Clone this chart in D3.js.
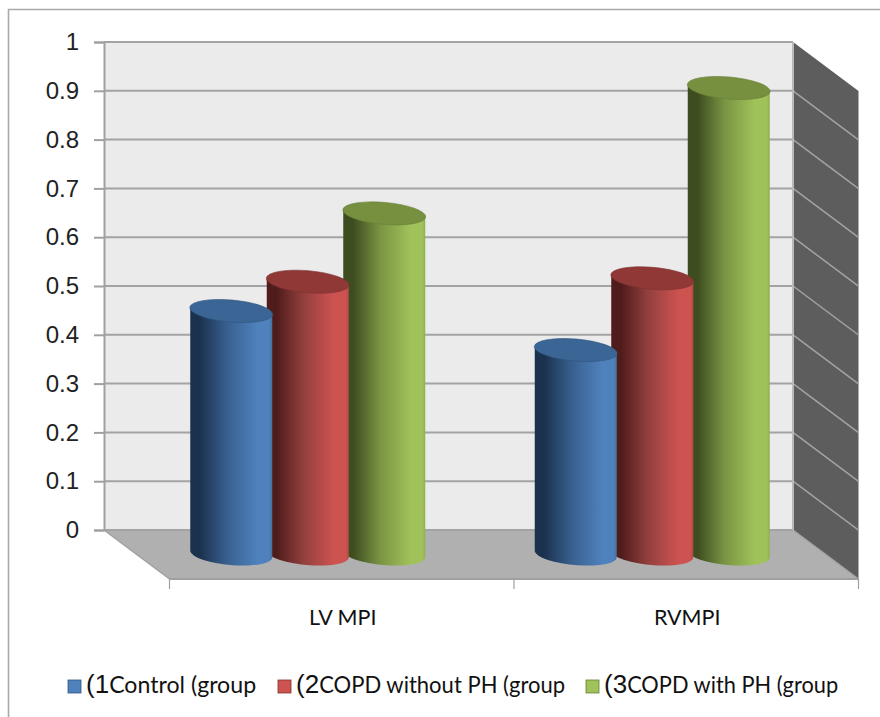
<!DOCTYPE html>
<html>
<head>
<meta charset="utf-8">
<script src="https://cdn.jsdelivr.net/npm/d3@7/dist/d3.min.js"></script>
<style>
html,body{margin:0;padding:0;background:#fff;}
svg{display:block;}
.num{font-family:"Liberation Sans",Arial,sans-serif;font-size:24px;fill:#222;}
.cat{font-family:Lato,"Open Sans",sans-serif;font-size:21.5px;fill:#111;}
.leg{font-family:Lato,"Open Sans",sans-serif;font-size:22.4px;fill:#111;}
.legnum{font-family:"Liberation Sans",Arial,sans-serif;font-size:26px;}
</style>
</head>
<body>
<svg id="chart" width="880" height="717"></svg>
<script>
const categories = ["LV MPI", "RVMPI"];
const seriesNames = ["Control (group", "COPD without PH (group", "COPD with PH (group"];
const seriesPrefix = ["(1", "(2", "(3"];
const control = [0.50, 0.42];
const copdWithoutPH = [0.56, 0.567];
const copdWithPH = [0.70, 0.957];
const yTicks = [0, 0.1, 0.2, 0.3, 0.4, 0.5, 0.6, 0.7, 0.8, 0.9, 1];
const bodyColors = [
  {dark: "#1b324f", mid: "#38608f", light: "#4f81bd", edge: "#45719f", cap: "#3b6595", rim:"#2f5580"},
  {dark: "#4f1c1b", mid: "#93403e", light: "#cd5351", edge: "#b54a47", cap: "#8f3836", rim:"#7d3230"},
  {dark: "#3e4d20", mid: "#7a9443", light: "#a0c25a", edge: "#8fb04e", cap: "#769040", rim:"#677f37"}
];

const svg = d3.select("#chart");
const defs = svg.append("defs");

// Box geometry of the 3D plot: back wall, and how far the floor projects forward.
const wall = {left: 104, right: 793, top: 42, bottom: 530};
const depth = {x: 65.5, y: 49};
const barDepth = {x: 34, y: 25};

const y = d3.scaleLinear().domain([0, 1]).range([wall.bottom, wall.top]);
const xFront = d3.scaleBand().domain(categories)
  .range([wall.left + depth.x, wall.right + depth.x]);
const xSeries = d3.scalePoint().domain(seriesNames).range([-76.5, 76.5]);
const barWidth = 82, capRy = 11, capTilt = 5;

// Outer frame
svg.append("path").attr("d", "M8.5,717V9.5H880").attr("fill", "none")
  .attr("stroke", "#a9a9a9").attr("stroke-width", 1.6);

// Back wall
svg.append("rect").attr("x", wall.left).attr("y", wall.top)
  .attr("width", wall.right - wall.left).attr("height", wall.bottom - wall.top)
  .attr("fill", "#ebebeb");

// Right side wall
svg.append("path")
  .attr("d", `M${wall.right},${wall.top}L${wall.right + depth.x},${wall.top + depth.y}V${wall.bottom + depth.y}L${wall.right},${wall.bottom}Z`)
  .attr("fill", "#5d5d5d");

// Floor
svg.append("path")
  .attr("d", `M${wall.left},${wall.bottom}H${wall.right}L${wall.right + depth.x},${wall.bottom + depth.y}H${wall.left + depth.x}Z`)
  .attr("fill", "#b0b0b0");

// Gridlines across the back wall and down the side wall
const grid = svg.append("g").attr("fill", "none").attr("stroke", "#a3a3a3");
grid.selectAll("line.back").data(yTicks).join("line").attr("class", "back")
  .attr("x1", wall.left).attr("x2", wall.right)
  .attr("y1", d => y(d)).attr("y2", d => y(d)).attr("stroke-width", 2);
grid.selectAll("line.side").data(yTicks.slice(0, -1)).join("line").attr("class", "side")
  .attr("x1", wall.right).attr("x2", wall.right + depth.x)
  .attr("y1", d => y(d)).attr("y2", d => y(d) + depth.y).attr("stroke-width", 1.5);
grid.append("path").attr("stroke-width", 2)
  .attr("d", `M${wall.right},${wall.top}V${wall.bottom}`).attr("stroke", "#b9b9b9");

// Value axis
const yAxis = svg.append("g").attr("transform", `translate(${wall.left},0)`)
  .call(d3.axisLeft(y).tickValues(yTicks).tickSize(10).tickPadding(15).tickFormat(d3.format("~g")));
yAxis.selectAll("path,line").attr("stroke", "#a0a0a0").attr("stroke-width", 2);
yAxis.selectAll("text").attr("class", "num").attr("dy", "0.32em").attr("fill", null);

// Category axis along the front edge of the floor
const edge = svg.append("g").attr("fill", "none").attr("stroke", "#a0a0a0");
edge.append("line").attr("x1", wall.left).attr("y1", wall.bottom)
  .attr("x2", wall.left + depth.x).attr("y2", wall.bottom + depth.y).attr("stroke-width", 1.5);
const frontY = wall.bottom + depth.y;
edge.append("line").attr("x1", xFront.range()[0]).attr("x2", xFront.range()[1])
  .attr("y1", frontY).attr("y2", frontY).attr("stroke-width", 2);
const tickXs = [...categories.map(c => xFront(c)), xFront.range()[1]];
edge.selectAll("line.tick").data(tickXs).join("line").attr("class", "tick")
  .attr("x1", d => d).attr("x2", d => d)
  .attr("y1", frontY).attr("y2", frontY + 10).attr("stroke-width", 1.2);
svg.selectAll("text.cat").data(categories).join("text").attr("class", "cat")
  .attr("x", d => xFront(d) + xFront.bandwidth() / 2 + 1)
  .attr("y", 625).attr("text-anchor", "middle").text(d => d);

// Horizontal shading of each cylinder
bodyColors.forEach((c, i) => {
  const g = defs.append("linearGradient").attr("id", "body" + i);
  [[0, c.dark], [0.12, c.dark], [0.45, c.mid], [0.82, c.light], [0.96, c.light], [1, c.edge]]
    .forEach(([o, col]) => g.append("stop").attr("offset", o).attr("stop-color", col));
});

// Cylinders, back series first so nearer ones overlap them
const seriesValues = [control, copdWithoutPH, copdWithPH];
const rad = capTilt * Math.PI / 180;
const tiltRise = (barWidth / 2) * Math.tan(rad) * 0.8;
const barsLayer = svg.append("g");

categories.forEach((cat, ci) => {
  const cx0 = xFront(cat) + xFront.bandwidth() / 2 - barDepth.x;
  [2, 1, 0].forEach(si => {
    const v = seriesValues[si][ci];
    const cx = cx0 + xSeries(seriesNames[si]);
    const yTop = y(v) + barDepth.y;
    const yBase = y(0) + barDepth.y - 1;
    const rx = barWidth / 2;
    const g = barsLayer.append("g");
    g.append("path")
      .attr("d", `M${cx - rx},${yTop - tiltRise}L${cx + rx},${yTop + tiltRise}` +
                 `L${cx + rx},${yBase + tiltRise}` +
                 `A${rx},${capRy} ${capTilt} 0 1 ${cx - rx},${yBase - tiltRise}Z`)
      .attr("fill", `url(#body${si})`);
    g.append("ellipse")
      .attr("cx", cx).attr("cy", yTop).attr("rx", rx + 0.6).attr("ry", capRy)
      .attr("transform", `rotate(${capTilt} ${cx} ${yTop})`)
      .attr("fill", bodyColors[si].cap).attr("stroke", bodyColors[si].rim).attr("stroke-width", 0.6);
  });
});

// Legend
const legendX = [68, 278, 586];
const legendNameWidth = [147, 246, 211];
const legend = svg.selectAll("g.legend").data(seriesNames).join("g").attr("class", "legend")
  .attr("transform", (d, i) => `translate(${legendX[i]},680)`);
legend.append("rect").attr("width", 13).attr("height", 13)
  .attr("fill", (d, i) => bodyColors[i].light).attr("stroke", (d, i) => bodyColors[i].rim).attr("stroke-width", 0.8);
const legendText = legend.append("text").attr("class", "leg").attr("x", 18).attr("y", 13);
legendText.append("tspan").attr("class", "legnum").text((d, i) => seriesPrefix[i]);
legendText.append("tspan").attr("textLength", (d, i) => legendNameWidth[i])
  .attr("lengthAdjust", "spacingAndGlyphs").text(d => d);
</script>
</body>
</html>
